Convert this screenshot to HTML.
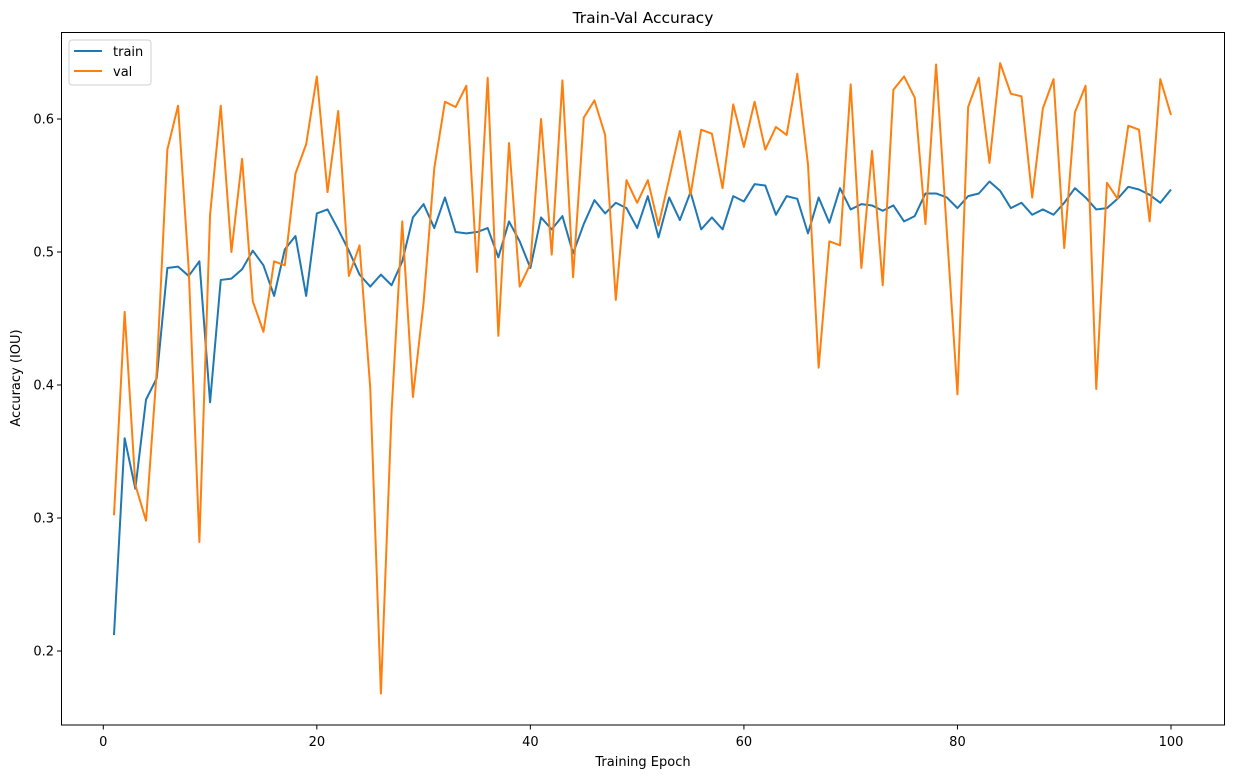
<!DOCTYPE html>
<html><head><meta charset="utf-8"><style>
body{margin:0;background:#fff;}
svg{display:block;font-family:"DejaVu Sans","Liberation Sans",sans-serif;}
</style></head><body>
<svg id="s" width="1233" height="778" xmlns="http://www.w3.org/2000/svg"></svg>
<script>
const tr=[0.212,0.36,0.322,0.389,0.405,0.488,0.489,0.482,0.493,0.387,0.479,0.480,0.487,0.501,0.490,0.467,0.502,0.512,0.467,0.529,0.532,0.517,0.501,0.483,0.474,0.483,0.475,0.493,0.526,0.536,0.518,0.541,0.515,0.514,0.515,0.518,0.496,0.523,0.508,0.488,0.526,0.517,0.527,0.499,0.521,0.539,0.529,0.537,0.533,0.518,0.542,0.511,0.541,0.524,0.545,0.517,0.526,0.517,0.542,0.538,0.551,0.550,0.528,0.542,0.540,0.514,0.541,0.522,0.548,0.532,0.536,0.535,0.531,0.535,0.523,0.527,0.544,0.544,0.541,0.533,0.542,0.544,0.553,0.546,0.533,0.537,0.528,0.532,0.528,0.537,0.548,0.541,0.532,0.533,0.540,0.549,0.547,0.543,0.537,0.547];
const va=[0.302,0.455,0.325,0.298,0.41,0.577,0.610,0.487,0.282,0.528,0.610,0.500,0.570,0.463,0.440,0.493,0.490,0.559,0.581,0.632,0.545,0.606,0.482,0.505,0.398,0.168,0.380,0.523,0.391,0.462,0.563,0.613,0.609,0.625,0.485,0.631,0.437,0.582,0.474,0.491,0.600,0.498,0.629,0.481,0.601,0.614,0.588,0.464,0.554,0.537,0.554,0.520,0.555,0.591,0.543,0.592,0.589,0.548,0.611,0.579,0.613,0.577,0.594,0.588,0.634,0.566,0.413,0.508,0.505,0.626,0.488,0.576,0.475,0.622,0.632,0.616,0.521,0.641,0.516,0.393,0.609,0.631,0.567,0.642,0.619,0.617,0.541,0.608,0.630,0.503,0.605,0.625,0.397,0.552,0.540,0.595,0.592,0.523,0.630,0.603];
const X=e=>103.3+(1171-103.3)*e/100, Y=v=>651-(v-0.2)*1330;
let h='';
const pts=a=>a.map((v,i)=>X(i+1).toFixed(2)+','+Y(v).toFixed(2)).join(' ');
h+=`<polyline points="${pts(tr)}" fill="none" stroke="#1f77b4" stroke-width="2" stroke-linejoin="round"/>`;
h+=`<polyline points="${pts(va)}" fill="none" stroke="#ff7f0e" stroke-width="2" stroke-linejoin="round"/>`;
h+=`<rect x="61.5" y="32.5" width="1163" height="692.5" fill="none" stroke="#000" stroke-width="1"/>`;
for(let t=0;t<=100;t+=20){const x=X(t);h+=`<line x1="${x}" y1="725" x2="${x}" y2="729.5" stroke="#000"/><text x="${x}" y="746" font-size="13" text-anchor="middle">${t}</text>`;}
for(let t=2;t<=6;t++){const y=Y(t/10);h+=`<line x1="57" y1="${y}" x2="61.5" y2="${y}" stroke="#000"/><text x="54" y="${y+4.5}" font-size="13" text-anchor="end">${(t/10).toFixed(1)}</text>`;}
h+=`<text x="643" y="23" font-size="15.5" text-anchor="middle">Train-Val Accuracy</text>`;
h+=`<text x="643" y="766" font-size="13" text-anchor="middle">Training Epoch</text>`;
h+=`<text transform="translate(20,378) rotate(-90)" font-size="13" text-anchor="middle">Accuracy (IOU)</text>`;
h+=`<rect x="69" y="40" width="82" height="45" rx="3" fill="#fff" fill-opacity="0.8" stroke="#d0d0d0"/>`;
h+=`<line x1="74" y1="51" x2="102" y2="51" stroke="#1f77b4" stroke-width="2"/><text x="113" y="56" font-size="13">train</text>`;
h+=`<line x1="74" y1="71" x2="102" y2="71" stroke="#ff7f0e" stroke-width="2"/><text x="113" y="76" font-size="13">val</text>`;
document.getElementById('s').innerHTML=h;
</script>
</body></html>
